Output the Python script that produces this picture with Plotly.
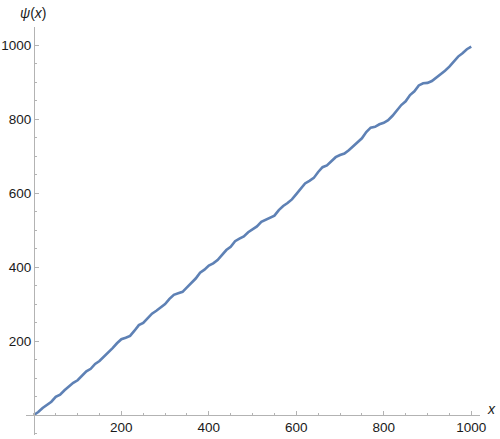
import plotly.graph_objects as go

x_vals = [0, 10, 20, 30, 40, 50, 60, 70, 80, 90,
          100, 110, 120, 130, 140, 150, 160, 170, 180, 190,
          200, 210, 220, 230, 240, 250, 260, 270, 280, 290,
          300, 310, 320, 330, 340, 350, 360, 370, 380, 390,
          400, 410, 420, 430, 440, 450, 460, 470, 480, 490,
          500, 510, 520, 530, 540, 550, 560, 570, 580, 590,
          600, 610, 620, 630, 640, 650, 660, 670, 680, 690,
          700, 710, 720, 730, 740, 750, 760, 770, 780, 790,
          800, 810, 820, 830, 840, 850, 860, 870, 880, 890,
          900, 910, 920, 930, 940, 950, 960, 970, 980, 990, 1000]
psi_vals = [0, 8, 19, 28, 36, 49, 55, 67, 78, 87,
            94, 107, 118, 125, 138, 146, 157, 170, 181, 194,
            205, 209, 214, 228, 243, 249, 262, 274, 282, 292,
            300, 314, 325, 329, 333, 345, 356, 369, 385, 393,
            404, 410, 419, 432, 446, 455, 470, 477, 483, 494,
            501, 510, 522, 527, 533, 539, 554, 565, 573, 583,
            597, 612, 626, 633, 641, 657, 670, 675, 686, 697,
            703, 707, 716, 726, 738, 748, 765, 777, 779, 786,
            790, 797, 809, 824, 838, 848, 865, 875, 891, 897,
            898, 903, 912, 920, 931, 942, 955, 969, 978, 989, 996]
x_ticks = [200, 400, 600, 800, 1000]
y_ticks = [200, 400, 600, 800, 1000]

x_range = [-18, 1020]
y_range = [-54, 1049]

fig = go.Figure()
fig.add_trace(go.Scatter(x=x_vals, y=psi_vals, mode="lines",
                         line=dict(color="#5E81B5", width=2.6, shape="linear"),
                         hoverinfo="skip"))

axis_color = "#B3B3B3"
font_family = "Liberation Sans, Arial, sans-serif"
tick_font = dict(family=font_family, size=13.5, color="#1a1a1a")
xpos = (0 - x_range[0]) / (x_range[1] - x_range[0])
ypos = (0 - y_range[0]) / (y_range[1] - y_range[0])

fig.update_layout(
    width=500, height=439,
    margin=dict(l=26, r=20, t=27, b=4, autoexpand=False),
    paper_bgcolor="white", plot_bgcolor="white",
    showlegend=False,
    xaxis=dict(range=x_range, showgrid=False, zeroline=False, automargin=False,
               showline=True, linecolor=axis_color, linewidth=1,
               anchor="free", position=ypos,
               tickvals=x_ticks, ticks="inside", ticklen=4, tickcolor=axis_color,
               tickfont=tick_font,
               minor=dict(dtick=50, tick0=0, ticks="inside", ticklen=2.5, tickcolor=axis_color)),
    yaxis=dict(range=y_range, showgrid=False, zeroline=False, automargin=False,
               showline=True, linecolor=axis_color, linewidth=1,
               anchor="free", position=xpos,
               tickvals=y_ticks, ticks="inside", ticklen=4, tickcolor=axis_color,
               tickfont=tick_font,
               minor=dict(dtick=50, tick0=0, ticks="inside", ticklen=2.5, tickcolor=axis_color)),
    annotations=[
        dict(text="<i>x</i>", x=1, xref="paper", y=ypos, yref="paper",
             xanchor="left", yanchor="middle", xshift=5, yshift=6, showarrow=False,
             font=dict(family=font_family, size=14, color="#1a1a1a")),
        dict(text="<i>ψ</i>(<i>x</i>)", x=xpos, xref="paper", y=1, yref="paper",
             xanchor="center", yanchor="bottom", yshift=4, showarrow=False,
             font=dict(family=font_family, size=14, color="#1a1a1a")),
    ],
)

fig.write_html("out.html", config={"displayModeBar": False},
               post_script="document.body.style.margin='0';document.body.style.padding='0';")
